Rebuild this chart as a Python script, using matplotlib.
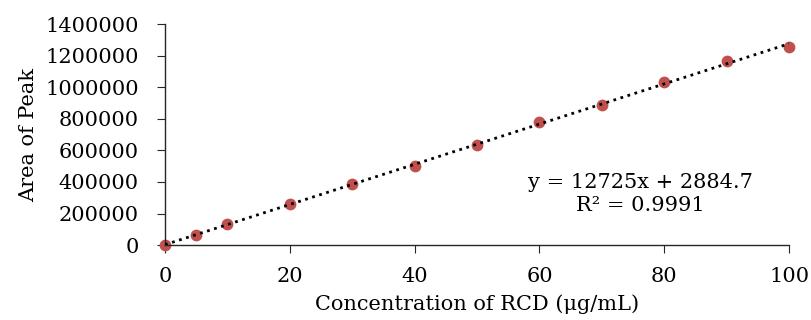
import numpy as np
import matplotlib.pyplot as plt

# calibration data
conc = [0, 5, 10, 20, 30, 40, 50, 60, 70, 80, 90, 100]
area = [0, 63000, 131000, 258000, 386000, 500000, 635000, 780000, 890000,
        1035000, 1165000, 1255000]

# trendline as printed on the chart
slope = 12725
intercept = 2884.7
r2 = 0.9991

plt.rcParams['font.family'] = ['DejaVu Serif']

fig = plt.figure(figsize=(8.11, 3.2), dpi=100)
ax = fig.add_axes([0.2035, 0.234, 0.7695, 0.691])

xs = np.array([0, 100])
ax.plot(xs, slope * xs + intercept, linestyle=':', color='black', linewidth=2.0, zorder=3)
ax.scatter(conc, area, s=72, color='#C0504D', zorder=2, clip_on=False, linewidths=0)

ax.set_xlim(0, 100)
ax.set_ylim(0, 1400000)
ax.set_xticks([0, 20, 40, 60, 80, 100])
ax.set_yticks(np.arange(0, 1400001, 200000))
ax.set_yticklabels([str(v) for v in range(0, 1400001, 200000)])

for s in ['top', 'right']:
    ax.spines[s].set_visible(False)
for s in ['left', 'bottom']:
    ax.spines[s].set_color('#262626')
    ax.spines[s].set_linewidth(1.0)

ax.tick_params(axis='both', labelsize=15, length=6, color='#262626', direction='out')
ax.tick_params(axis='y', pad=13)
ax.tick_params(axis='x', pad=10)

ax.set_ylabel('Area of Peak', fontsize=15, labelpad=5)
ax.set_xlabel('Concentration of RCD (μg/mL)', fontsize=15, labelpad=6)

ax.text(0.761, 0.232, f'y = {slope}x + {intercept}\nR² = {r2}', transform=ax.transAxes,
        fontsize=15, ha='center', va='center', linespacing=1.25)

fig.savefig('out.png', dpi=100)
